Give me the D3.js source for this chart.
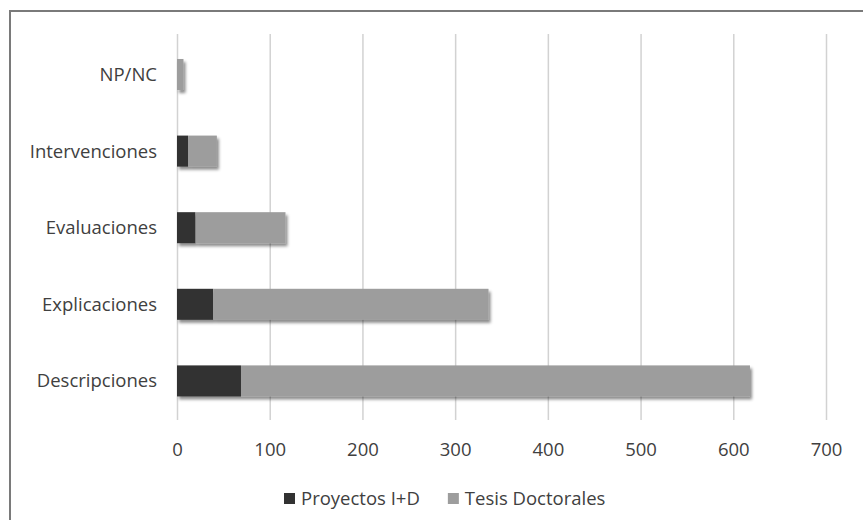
<!DOCTYPE html>
<html>
<head>
<meta charset="utf-8">
<script src="https://cdn.jsdelivr.net/npm/d3@7"></script>
<style>
  html, body { margin: 0; padding: 0; background: #fff; }
  svg { display: block; }
</style>
</head>
<body>
<script>
// ---- Data ----
const categories = ["NP/NC", "Intervenciones", "Evaluaciones", "Explicaciones", "Descripciones"];
const seriesNames = ["Proyectos I+D", "Tesis Doctorales"];
const proyectos = [0, 12, 20, 39, 69];
const tesis = [7, 31, 97, 297, 549];
const xTicks = [0, 100, 200, 300, 400, 500, 600, 700];
const seriesColors = ["#323232", "#9d9d9d"];

// ---- Setup ----
const W = 863, H = 520;
const svg = d3.select("body").append("svg").attr("width", W).attr("height", H);
const font = "'Open Sans', sans-serif";
const textColor = "#404040";

const defs = svg.append("defs");
const f = defs.append("filter").attr("id", "shadow")
  .attr("x", "-10%").attr("y", "-30%").attr("width", "130%").attr("height", "180%");
f.append("feDropShadow").attr("dx", 2).attr("dy", 3).attr("stdDeviation", 1.6)
  .attr("flood-color", "#000").attr("flood-opacity", 0.45);

// outer frame (extends beyond the picture on right and bottom)
svg.append("rect").attr("x", 10).attr("y", 11).attr("width", 900).attr("height", 560)
  .attr("fill", "none").attr("stroke", "#7a7a7a").attr("stroke-width", 2);

const x = d3.scaleLinear().domain([0, 700]).range([177, 826]);
const y = d3.scaleBand().domain(categories).range([36, 419.4]).paddingInner(0.595).paddingOuter(0.3);

// gridlines + tick labels via axis
const axis = d3.axisBottom(x).tickValues(xTicks).tickSizeInner(-386).tickSizeOuter(0).tickPadding(22.4);
const gAxis = svg.append("g").attr("transform", "translate(0,420)").call(axis);
gAxis.select(".domain").remove();
gAxis.selectAll(".tick line").attr("stroke", "#d2d2d2").attr("stroke-width", 1.5);
gAxis.selectAll(".tick text").attr("font-family", font).attr("font-size", "18.5px").attr("fill", textColor);

// stacked data
const rows = categories.map((c, i) => ({ cat: c, "Proyectos I+D": proyectos[i], "Tesis Doctorales": tesis[i] }));
const stack = d3.stack().keys(seriesNames)(rows);

const gBars = svg.append("g").attr("filter", "url(#shadow)");
stack.forEach((layer, li) => {
  gBars.selectAll(null).data(layer).enter().append("rect")
    .attr("x", d => x(d[0]))
    .attr("y", d => y(d.data.cat))
    .attr("width", d => Math.max(0, x(d[1]) - x(d[0])))
    .attr("height", y.bandwidth())
    .attr("fill", seriesColors[li]);
});

// category labels
svg.append("g").selectAll("text").data(categories).enter().append("text")
  .attr("x", 157)
  .attr("y", d => y(d) + y.bandwidth() / 2)
  .attr("dy", "0.35em")
  .attr("text-anchor", "end")
  .attr("font-family", font).attr("font-size", "18.5px").attr("fill", textColor)
  .text(d => d);

// legend
const legend = svg.append("g");
let lx = 284;
seriesNames.forEach((name, i) => {
  legend.append("rect").attr("x", lx).attr("y", 493).attr("width", 11).attr("height", 11)
    .attr("fill", seriesColors[i]);
  const t = legend.append("text").attr("x", lx + 17).attr("y", 505)
    .attr("font-family", font).attr("font-size", "18.5px").attr("fill", textColor)
    .text(name);
  lx = lx + 17 + t.node().getComputedTextLength() + 28;
});
</script>
</body>
</html>
